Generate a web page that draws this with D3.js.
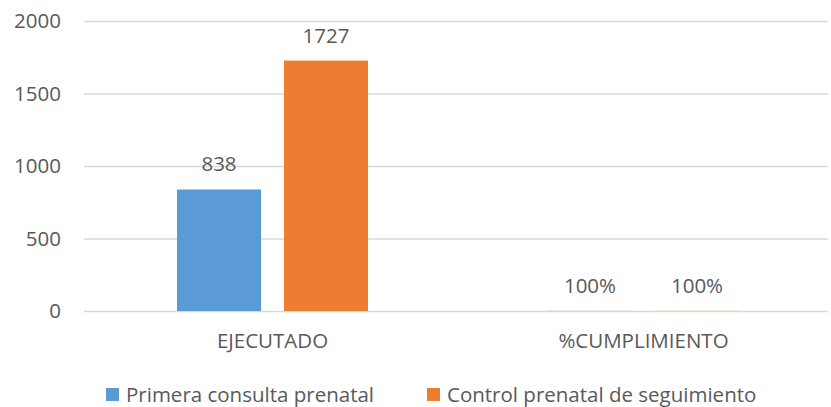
<!DOCTYPE html>
<html><head><meta charset="utf-8">
<script src="https://cdn.jsdelivr.net/npm/d3@7"></script>
<style>body{margin:0;background:#fff}svg{display:block}text{font-family:"Open Sans",sans-serif;fill:#595959}</style>
</head><body><svg id="c" width="831" height="407"></svg>
<script>
const categories = ["EJECUTADO", "%CUMPLIMIENTO"];
const seriesNames = ["Primera consulta prenatal", "Control prenatal de seguimiento"];
const primeraValues = [838, 1];
const controlValues = [1727, 1];
const valueLabels = [["838", "100%"], ["1727", "100%"]];
const yTicks = [0, 500, 1000, 1500, 2000];
const colors = ["#5b9bd5", "#ed7d31"];
const series = [primeraValues, controlValues];

const svg = d3.select("#c");
const fs = 20.5;
const y = d3.scaleLinear().domain([0, 2000]).range([311, 21]);
const x0 = d3.scaleBand().domain(categories).range([87, 829]).padding(0);
const groupW = 191;
const x1 = d3.scaleBand().domain(d3.range(series.length))
  .range([(x0.bandwidth() - groupW) / 2, (x0.bandwidth() + groupW) / 2]).paddingInner(0.215).paddingOuter(0);

const yAxis = d3.axisLeft(y).tickValues(yTicks).tickFormat(d3.format("d")).tickSize(-(828 - 84)).tickPadding(23);
const g = svg.append("g").attr("transform", "translate(84,0)").call(yAxis);
g.select(".domain").remove();
g.selectAll(".tick line").attr("stroke", "#d9d9d9").attr("stroke-width", 1.5);
g.selectAll(".tick text").style("font-size", fs + "px").style("font-family", '"Open Sans",sans-serif').attr("fill", "#595959");

const groups = svg.selectAll(".grp").data(categories).join("g")
  .attr("transform", d => `translate(${x0(d)},0)`);
groups.each(function (cat, ci) {
  const gg = d3.select(this);
  series.forEach((vals, si) => {
    const v = vals[ci];
    gg.append("rect").attr("x", x1(si)).attr("width", x1.bandwidth())
      .attr("y", y(v)).attr("height", y(0) - y(v)).attr("fill", colors[si]);
    gg.append("text").attr("x", x1(si) + x1.bandwidth() / 2).attr("y", y(v) - 18)
      .attr("text-anchor", "middle").style("font-size", fs + "px").text(valueLabels[si][ci]);
  });
  gg.append("text").attr("x", x0.bandwidth() / 2).attr("y", 348)
    .attr("text-anchor", "middle").style("font-size", fs + "px").text(cat);
});

const legendX = [106, 427];
const lg = svg.selectAll(".lg").data(seriesNames).join("g").attr("transform", (d, i) => `translate(${legendX[i]},388)`);
lg.append("rect").attr("width", 13).attr("height", 13).attr("fill", (d, i) => colors[i]);
lg.append("text").attr("x", 20).attr("y", 14).style("font-size", fs + "px").text(d => d);
</script></body></html>
